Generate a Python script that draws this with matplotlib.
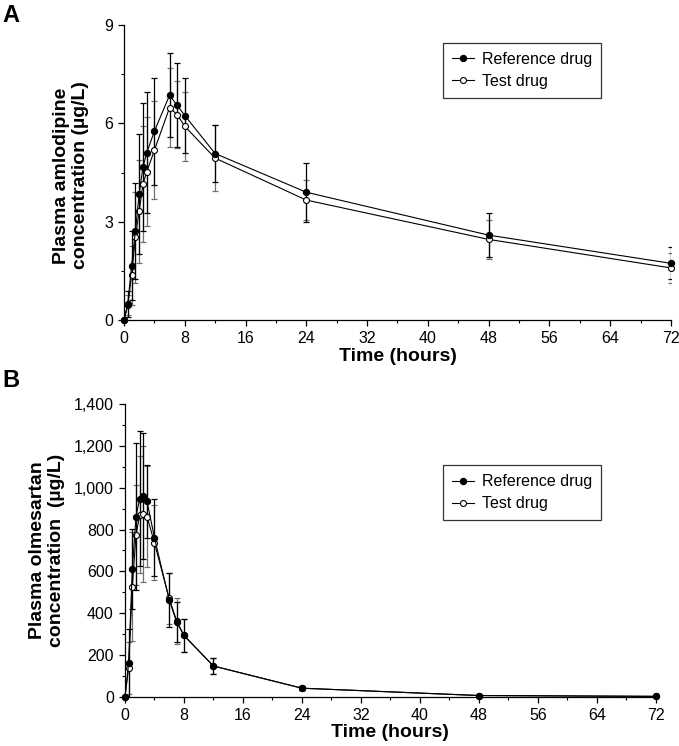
import numpy as np
import matplotlib.pyplot as plt
from matplotlib.ticker import MultipleLocator, FuncFormatter

plt.rcParams['font.family'] = ['Liberation Sans', 'DejaVu Sans']

# sampling times (hours)
times = [0, 0.5, 1, 1.5, 2, 2.5, 3, 4, 6, 7, 8, 12, 24, 48, 72]

# panel A: amlodipine (ug/L)
aml_ref = [0, 0.49, 1.66, 2.71, 3.86, 4.67, 5.11, 5.76, 6.86, 6.55, 6.24, 5.08, 3.90, 2.59, 1.73]
aml_ref_sd = [0, 0.40, 1.06, 1.46, 1.83, 1.96, 1.85, 1.64, 1.29, 1.28, 1.13, 0.87, 0.90, 0.68, 0.49]
aml_test = [0, 0.45, 1.37, 2.52, 3.32, 4.15, 4.52, 5.18, 6.48, 6.27, 5.91, 4.94, 3.66, 2.46, 1.59]
aml_test_sd = [0, 0.30, 0.90, 1.40, 1.57, 1.76, 1.66, 1.50, 1.20, 1.02, 1.05, 1.00, 0.60, 0.60, 0.45]

# panel B: olmesartan (ug/L)
olm_ref = [0, 160, 611, 862, 948, 961, 934, 761, 464, 359, 294, 148, 42, 7, 3]
olm_ref_sd = [0, 164, 190, 351, 321, 300, 176, 185, 130, 95, 80, 40, 10, 3, 2]
olm_test = [0, 139, 527, 774, 870, 875, 862, 737, 471, 365, 294, 148, 42, 7, 3]
olm_test_sd = [0, 125, 260, 240, 280, 325, 240, 180, 120, 110, 80, 40, 10, 3, 2]

fig = plt.figure(figsize=(6.79, 7.46), dpi=100)
axA = fig.add_axes([0.1826, 0.571, 0.8056, 0.3954])
axB = fig.add_axes([0.184, 0.0657, 0.782, 0.3928])


def draw_panel(ax, ref, ref_sd, test, test_sd, leg_pos):
    ax.errorbar(times, test, yerr=test_sd, fmt='none', ecolor='#707070',
                elinewidth=0.9, capsize=2.5, capthick=0.9, zorder=2)
    ax.errorbar(times, ref, yerr=ref_sd, fmt='none', ecolor='black',
                elinewidth=0.9, capsize=2.5, capthick=0.9, zorder=2)
    ax.plot(times, test, '-o', color='black', lw=0.8, ms=4.3, mfc='white',
            mec='black', mew=0.8, label='Test drug', zorder=3, clip_on=False)
    ax.plot(times, ref, '-o', color='black', lw=0.8, ms=4.3, mfc='black',
            mec='black', label='Reference drug', zorder=4, clip_on=False)
    for s in ['top', 'right']:
        ax.spines[s].set_visible(False)
    ax.spines['left'].set_linewidth(0.9)
    ax.spines['bottom'].set_linewidth(0.9)
    ax.set_xlim(0, 72)
    ax.xaxis.set_major_locator(MultipleLocator(8))
    ax.xaxis.set_minor_locator(MultipleLocator(4))
    ax.tick_params(which='major', direction='out', length=4.5, width=0.9,
                   labelsize=11.5, colors='black')
    ax.tick_params(which='minor', direction='out', length=2.5, width=0.8)
    ax.set_xlabel('Time (hours)', fontsize=14, fontweight='bold', labelpad=1)
    handles, labels = ax.get_legend_handles_labels()
    leg = ax.legend(handles[::-1], labels[::-1], loc='upper left',
                    bbox_to_anchor=leg_pos, fontsize=11.5,
                    frameon=True, fancybox=False, edgecolor='black',
                    handlelength=1.4, handletextpad=0.5, borderpad=0.55,
                    labelspacing=0.45, borderaxespad=0)
    leg.get_frame().set_linewidth(0.9)


draw_panel(axA, aml_ref, aml_ref_sd, aml_test, aml_test_sd, (0.583, 0.939))
axA.set_ylim(0, 9)
axA.yaxis.set_major_locator(MultipleLocator(3))
axA.yaxis.set_minor_locator(MultipleLocator(1.5))
axA.set_ylabel('Plasma amlodipine\nconcentration (\u00b5g/L)', fontsize=14,
               fontweight='bold', linespacing=1.15)
axA.yaxis.set_label_coords(-0.064, 0.49)

draw_panel(axB, olm_ref, olm_ref_sd, olm_test, olm_test_sd, (0.599, 0.79))
axB.set_ylim(0, 1400)
axB.yaxis.set_major_locator(MultipleLocator(200))
axB.yaxis.set_minor_locator(MultipleLocator(100))
axB.yaxis.set_major_formatter(FuncFormatter(lambda v, p: f'{int(v):,}'))
axB.set_ylabel('Plasma olmesartan\nconcentration  (\u00b5g/L)', fontsize=14,
               fontweight='bold', linespacing=1.15)
axB.yaxis.set_label_coords(-0.113, 0.5)

fig.text(0.004, 0.994, 'A', fontsize=17, fontweight='bold', va='top')
fig.text(0.004, 0.505, 'B', fontsize=17, fontweight='bold', va='top')

fig.savefig('out.png', dpi=100, facecolor='white')
